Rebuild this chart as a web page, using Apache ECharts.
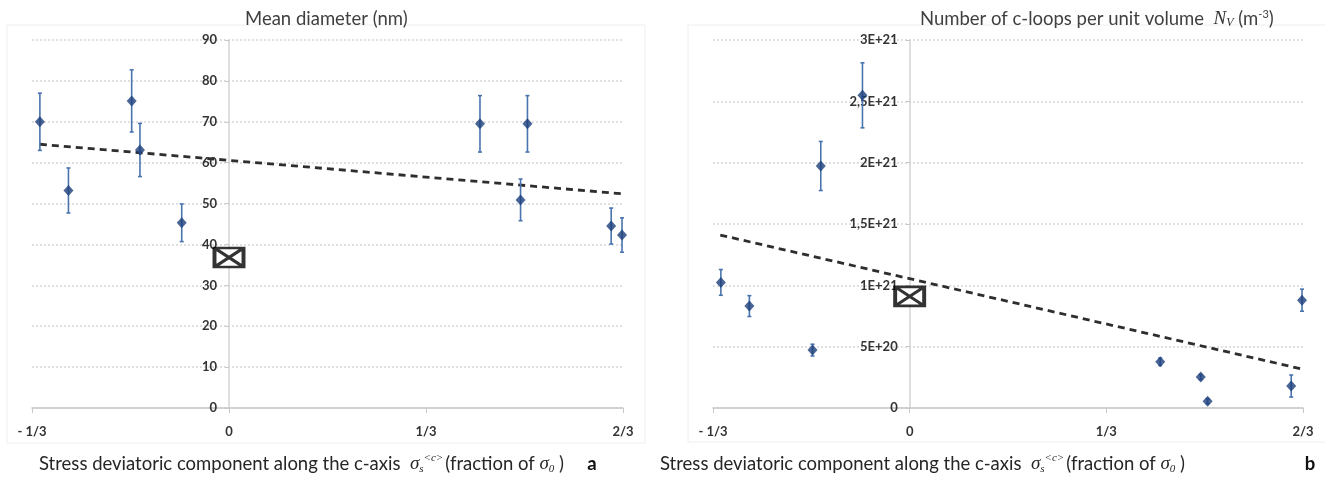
<!DOCTYPE html>
<html>
<head>
<meta charset="utf-8">
<script src="https://cdn.jsdelivr.net/npm/echarts@6/dist/echarts.min.js"></script>
<style>
html,body{margin:0;padding:0;background:#fff;}
#chart{width:1325px;height:477px;}
</style>
</head>
<body>
<div id="chart"></div>
<script>
// x positions in units of sigma0/3 (axis ticks -1/3, 0, 1/3, 2/3 of sigma0)
const stressThirds = [-0.96, -0.815, -0.494, -0.452, -0.24, 1.274, 1.48, 1.515, 1.94, 1.995];
const xTickLabels = ['- 1/3', '0', '1/3', '2/3'];   // for -1, 0, 1, 2 (thirds)

// panel a: mean diameter (nm)
const diameter    = [70, 53.2, 75.1, 63.1, 45.3, 69.5, 50.9, 69.5, 44.5, 42.3];
const diameterErr = [7, 5.5, 7.6, 6.5, 4.6, 6.9, 5.1, 6.9, 4.4, 4.2];
const diameterTrendX = [-0.96, 1.995];
const diameterTrendY = [64.5, 52.4];
const diameterRef = [0, 36.8];

// panel b: number of c-loops per unit volume (m^-3)
const density    = [1.024e21, 0.831e21, 0.472e21, 1.973e21, 2.549e21, 0.377e21, 0.252e21, 0.055e21, 0.179e21, 0.879e21];
const densityErr = [0.105e21, 0.085e21, 0.048e21, 0.2e21, 0.265e21, 0.03e21, 0.02e21, 0.02e21, 0.09e21, 0.09e21];
const densityTrendX = [-0.963, 1.993];
const densityTrendY = [1.41e21, 0.318e21];
const densityRef = [0, 0.91e21];
const densityTickLabels = ['0', '5E+20', '1E+21', '1,5E+21', '2E+21', '2,5E+21', '3E+21'];

const MARK = '#1b3f7a', ERR = '#4a74ae', TXT = '#404040';
const G = [
  { left: 32, top: 40, width: 591, height: 368 },
  { left: 713, top: 40, width: 590, height: 368 }
];
const chart = echarts.init(document.getElementById('chart'));

function xAxisCfg(gi) {
  return {
    type: 'value', gridIndex: gi, min: -1, max: 2, interval: 1,
    axisLine: { show: true, onZero: false, lineStyle: { color: '#c8c8c8', width: 1.5 } },
    axisTick: { show: true, length: 5, lineStyle: { color: '#c8c8c8' } },
    axisLabel: { margin: 17, color: '#333', fontWeight: 'bold', fontFamily: 'Lato', fontSize: 13,
      formatter: v => xTickLabels[Math.round(v) + 1] },
    splitLine: { show: false }
  };
}
function yAxisCfg(gi, max, interval, fmt) {
  return {
    type: 'value', gridIndex: gi, min: 0, max: max, interval: interval,
    offset: -G[gi].width / 3,   // y axis drawn at x = 0
    axisLine: { show: true, onZero: false, lineStyle: { color: '#d4d4d4', width: 1.5 } },
    axisTick: { show: true, length: 4, lineStyle: { color: '#c8c8c8' } },
    axisLabel: { margin: 12, color: '#333', fontWeight: 'bold', fontFamily: 'Lato', fontSize: 13, formatter: fmt },
    splitLine: { show: true, lineStyle: { type: [2, 2], color: '#d6d6d6', width: 1.5 } }
  };
}
function errSeries(gi, ys, es) {
  return {
    type: 'custom', xAxisIndex: gi, yAxisIndex: gi, z: 3,
    data: stressThirds.map((x, i) => [x, ys[i], es[i]]),
    renderItem: function (params, api) {
      const x = api.value(0), y = api.value(1), e = api.value(2);
      const t = api.coord([x, y + e]), b = api.coord([x, y - e]);
      const st = { stroke: ERR, lineWidth: 1.6, fill: null };
      return { type: 'group', children: [
        { type: 'line', shape: { x1: t[0], y1: t[1], x2: b[0], y2: b[1] }, style: st },
        { type: 'line', shape: { x1: t[0] - 2, y1: t[1], x2: t[0] + 2, y2: t[1] }, style: st },
        { type: 'line', shape: { x1: b[0] - 2, y1: b[1], x2: b[0] + 2, y2: b[1] }, style: st }
      ]};
    }
  };
}
function pointSeries(gi, ys) {
  return { type: 'scatter', xAxisIndex: gi, yAxisIndex: gi, z: 4, symbol: 'diamond', symbolSize: [10, 11],
    itemStyle: { color: MARK }, data: stressThirds.map((x, i) => [x, ys[i]]) };
}
function trendSeries(gi, xs, ys) {
  return { type: 'line', xAxisIndex: gi, yAxisIndex: gi, z: 2, symbol: 'none', silent: true,
    lineStyle: { type: [7, 5], color: '#2e2e2e', width: 2.8 },
    data: xs.map((x, i) => [x, ys[i]]) };
}
function refSeries(gi, pt) {
  return { type: 'scatter', xAxisIndex: gi, yAxisIndex: gi, z: 5,
    symbol: 'path://M0,0H30V20H0Z M0,0L30,20 M30,0L0,20', symbolSize: [29, 19],
    itemStyle: { color: '#ffffff', borderColor: '#000000', borderWidth: 3.2 },
    data: [pt] };
}

const sigmaRich = {
  n: { fontFamily: 'Lato', fontSize: 18.5, fill: '#262626', lineHeight: 28 },
  s: { fontFamily: 'Liberation Serif', fontStyle: 'italic', fontSize: 19, fill: '#262626', lineHeight: 28 },
  sb: { fontFamily: 'Liberation Serif', fontStyle: 'italic', fontSize: 11, fill: '#262626', lineHeight: 28, verticalAlign: 'bottom', padding: [0, 0, 3, 0] },
  sp: { fontFamily: 'Liberation Serif', fontStyle: 'italic', fontSize: 11, fill: '#262626', lineHeight: 28, verticalAlign: 'top', padding: [3, 2, 0, 0] }
};
const xTitle = '{n|Stress deviatoric component along the c-axis  }{s|σ}{sb|s}{sp|<c>}{n|(fraction of }{s|σ}{sb|0}{n| )}';

chart.setOption({
  animation: false,
  grid: G,
  xAxis: [xAxisCfg(0), xAxisCfg(1)],
  yAxis: [
    yAxisCfg(0, 90, 10, v => String(v)),
    yAxisCfg(1, 3e21, 5e20, v => densityTickLabels[Math.round(v / 5e20)])
  ],
  series: [
    trendSeries(0, diameterTrendX, diameterTrendY),
    errSeries(0, diameter, diameterErr),
    pointSeries(0, diameter),
    refSeries(0, diameterRef),
    trendSeries(1, densityTrendX, densityTrendY),
    errSeries(1, density, densityErr),
    pointSeries(1, density),
    refSeries(1, densityRef)
  ],
  graphic: [
    { type: 'rect', silent: true, z: -10, shape: { x: 7, y: 25, width: 638, height: 418 }, style: { fill: null, stroke: '#eeeeee', lineWidth: 1 } },
    { type: 'rect', silent: true, z: -10, shape: { x: 688, y: 25, width: 660, height: 417 }, style: { fill: null, stroke: '#eeeeee', lineWidth: 1 } },
    { type: 'text', x: 245, y: 19, style: { text: 'Mean diameter (nm)', fontFamily: 'Lato', fontSize: 18.5, fill: TXT, align: 'left', verticalAlign: 'middle' } },
    { type: 'text', x: 920, y: 19, style: { text: '{n|Number of c-loops per unit volume  }{nv|N}{nvs|V}{n| (m}{sp|-3}{n|)}', align: 'left', verticalAlign: 'middle',
        rich: {
          n: { fontFamily: 'Lato', fontSize: 18.5, fill: TXT, lineHeight: 28 },
          nv: { fontFamily: 'Liberation Serif', fontStyle: 'italic', fontSize: 19, fill: '#333', lineHeight: 28 },
          nvs: { fontFamily: 'Liberation Serif', fontStyle: 'italic', fontSize: 12, fill: '#333', lineHeight: 28, verticalAlign: 'bottom', padding: [0, 0, 4, 0] },
          sp: { fontFamily: 'Lato', fontSize: 11, fill: TXT, lineHeight: 28, verticalAlign: 'top', padding: [4, 0, 0, 0] }
        } } },
    { type: 'text', x: 39, y: 464, style: { text: xTitle, rich: sigmaRich, align: 'left', verticalAlign: 'middle' } },
    { type: 'text', x: 660, y: 464, style: { text: xTitle, rich: sigmaRich, align: 'left', verticalAlign: 'middle' } },
    { type: 'text', x: 592, y: 464, style: { text: 'a', fontFamily: 'Lato', fontWeight: 'bold', fontSize: 18.5, fill: '#111', align: 'center', verticalAlign: 'middle' } },
    { type: 'text', x: 1310, y: 464, style: { text: 'b', fontFamily: 'Lato', fontWeight: 'bold', fontSize: 18.5, fill: '#111', align: 'center', verticalAlign: 'middle' } }
  ]
});
</script>
</body>
</html>
